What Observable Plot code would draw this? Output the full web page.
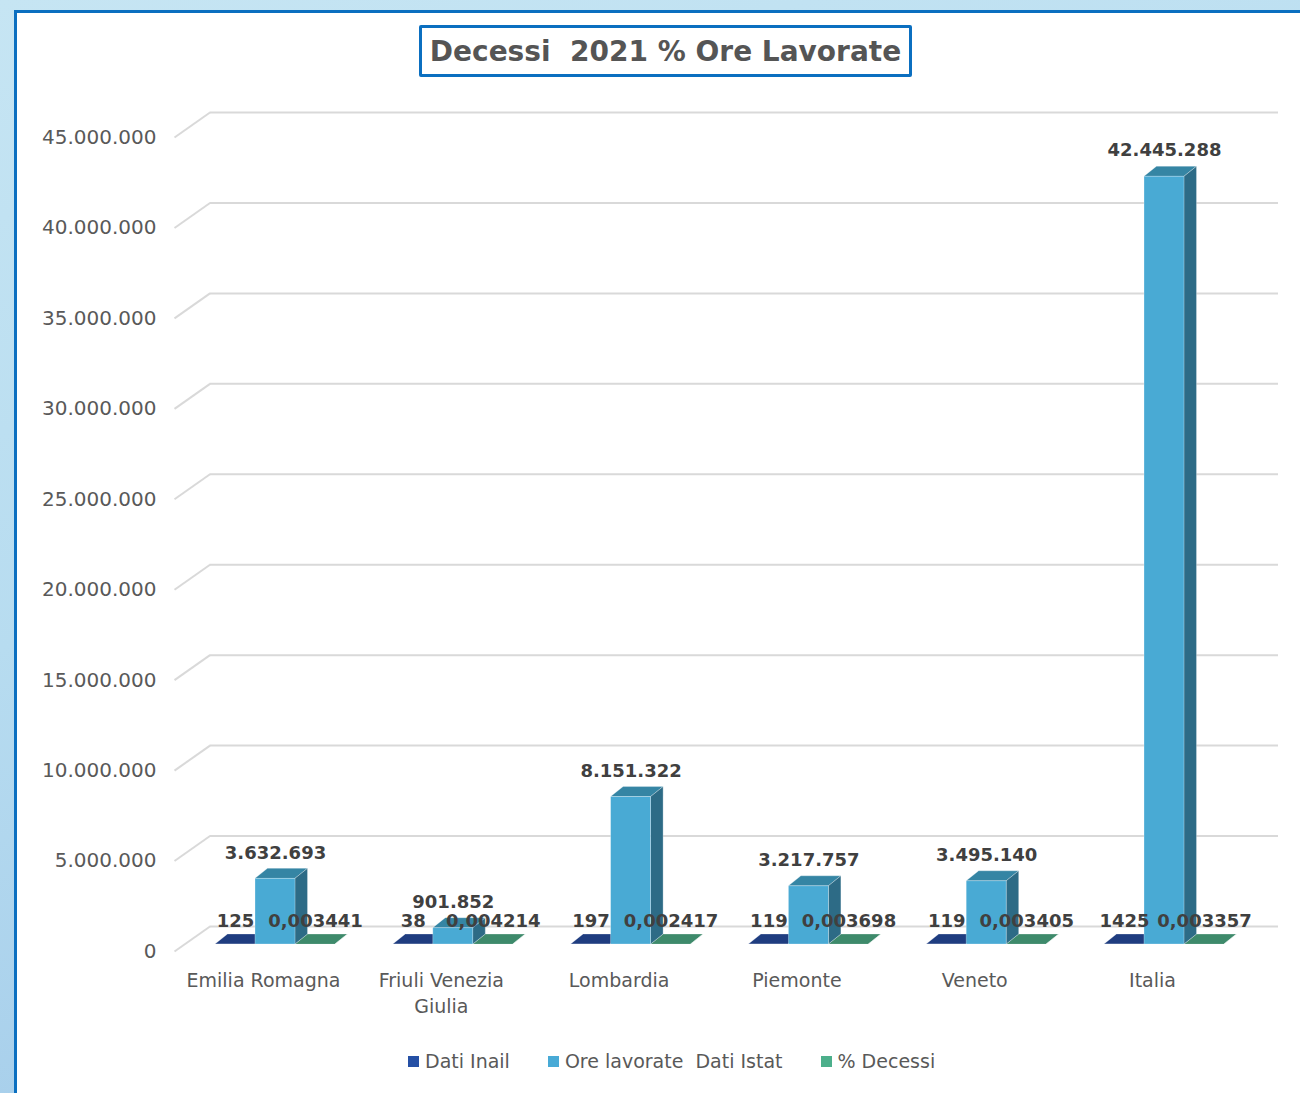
<!DOCTYPE html>
<html>
<head>
<meta charset="utf-8">
<script src="https://cdn.jsdelivr.net/npm/d3@7"></script>
<script src="https://cdn.jsdelivr.net/npm/@observablehq/plot@0.6"></script>
<style>
html, body { margin:0; padding:0; overflow:hidden; width:1300px; height:1093px; }
body { position:relative; background:linear-gradient(165deg,#c6e5f3 0%,#b7dcf0 45%,#9ec7e8 100%); font-family:"DejaVu Sans",sans-serif; }
#panel { position:absolute; left:14px; top:10px; width:1300px; height:1100px; background:#fff; border-left:3px solid #0b6fc0; border-top:3px solid #0b6fc0; }
#chart { position:absolute; left:0; top:0; }
#title { position:absolute; left:419px; top:25px; width:487px; height:46px; border:3px solid #0b6fc0; border-radius:2px; background:#fff;
  display:flex; align-items:center; justify-content:center; white-space:pre; font-weight:bold; font-size:28px; color:#555; }
#legend { position:absolute; left:408px; top:1050px; display:flex; align-items:center; font-size:19px; color:#595959; white-space:pre; }
#legend .item { display:flex; align-items:center; margin-right:38px; }
#legend .sw { width:11px; height:11px; margin-right:6px; }
</style>
</head>
<body>
<div id="panel"></div>
<div id="chart"></div>
<div id="title">Decessi  2021 % Ore Lavorate</div>
<div id="legend"></div>
<script>
// ---- data ----
const categoryLabels = ["Emilia Romagna", "Friuli Venezia\nGiulia", "Lombardia", "Piemonte", "Veneto", "Italia"];
const datiInail = [125, 38, 197, 119, 119, 1425];
const oreLavorate = [3632693, 901852, 8151322, 3217757, 3495140, 42445288];
const percDecessi = [0.003441, 0.004214, 0.002417, 0.003698, 0.003405, 0.003357];
const seriesNames = ["Dati Inail", "Ore lavorate  Dati Istat", "% Decessi"];
const yTicks = [0, 5000000, 10000000, 15000000, 20000000, 25000000, 30000000, 35000000, 40000000, 45000000];

// ---- formats ----
const it = d3.formatLocale({decimal: ",", thousands: ".", grouping: [3], currency: ["", "€"]});
const fmtGroup = it.format(",d");
const fmtPct = it.format(".6f");
const fmtPlain = d3.format("d");

// ---- layout (pixels) ----
const STEP = 177.8, X0 = 275;          // category spacing, centre of first group
const BW = 40, DX = 12.5, DY = 10;     // bar width and 3D depth
const Y0 = 944, YTOP = 130;            // bar plane: 0 and 45M
const pxX = 1 / STEP;
const pxY = 45000000 / (Y0 - YTOP);
const xu = px => (px - X0) / STEP;

const series = [
  {name: seriesNames[0], values: datiInail, fmt: fmtPlain, off: -1, dy: -23, front: "#2a52a6", top: "#1f3d80", side: "#1a346c", legend: "#2550a5"},
  {name: seriesNames[1], values: oreLavorate, fmt: fmtGroup, off: 0, dy: -26, front: "#49aad4", top: "#3585a4", side: "#2d6b86", legend: "#48aad6"},
  {name: seriesNames[2], values: percDecessi, fmt: fmtPct, off: 1, dy: -23, front: "#4caf8b", top: "#3e8a6b", side: "#2f6f56", legend: "#4caf8b"}
];

function barMarks(s) {
  const fronts = [], sides = [], tops = [];
  s.values.forEach((v, i) => {
    const xc = i + s.off * BW * pxX;
    const xl = xc - BW / 2 * pxX, xr = xc + BW / 2 * pxX;
    fronts.push({x1: xl, x2: xr, y1: 0, y2: v});
    sides.push({id: i, x: xr, y1: 0, y2: v});
    sides.push({id: i, x: xr + DX * pxX, y1: DY * pxY, y2: v + DY * pxY});
    tops.push({id: i, y: v, x1: xl, x2: xr});
    tops.push({id: i, y: v + DY * pxY, x1: xl + DX * pxX, x2: xr + DX * pxX});
  });
  return [
    Plot.area(tops, {y1: "y", x1: "x1", x2: "x2", z: "id", fill: s.top, curve: "linear", stroke: "#ffffff", strokeOpacity: 0.35, strokeWidth: 0.8}),
    Plot.area(sides, {x1: "x", y1: "y1", y2: "y2", z: "id", fill: s.side, curve: "linear", stroke: "#ffffff", strokeOpacity: 0.35, strokeWidth: 0.8}),
    Plot.rect(fronts, {x1: "x1", x2: "x2", y1: "y1", y2: "y2", fill: s.front, stroke: "#ffffff", strokeOpacity: 0.35, strokeWidth: 0.8})
  ];
}

function labelMarks(s) {
  return Plot.text(s.values, {
    x: (d, i) => i + s.off * BW * pxX, y: d => d, dy: s.dy,
    text: d => s.fmt(d), fontSize: 18, fontWeight: "bold", fill: "#404040"
  });
}

const chart = Plot.plot({
  width: 1300,
  height: 1040,
  x: {type: "linear", domain: [0, 5], range: [X0, X0 + 5 * STEP], axis: null},
  y: {type: "linear", domain: [0, 45000000], range: [Y0, YTOP], axis: null},
  style: {background: "transparent", overflow: "visible", fontFamily: "DejaVu Sans, sans-serif"},
  marks: [
    // back-wall gridlines
    Plot.ruleY(yTicks, {y: d => d, x1: xu(209.5), x2: xu(1278), dy: -18, stroke: "#d9d9d9", strokeWidth: 2}),
    // perspective connectors to the front plane
    Plot.link(yTicks, {x1: xu(174), y1: d => d - 7 * pxY, x2: xu(209.5), y2: d => d + 18 * pxY, stroke: "#d9d9d9", strokeWidth: 2}),
    // y tick labels (front plane)
    Plot.text(yTicks, {x: xu(156), y: d => d, dy: 7, text: d => fmtGroup(d), textAnchor: "end", fontSize: 20, fill: "#595959"}),
    // category labels
    Plot.text(categoryLabels, {x: (d, i) => i, y: 0, dx: -12, dy: 24, text: d => d, lineAnchor: "top", lineHeight: 1.37, fontSize: 19, fill: "#595959"}),
    // bars: dark blue, green, then light blue on top
    ...barMarks(series[0]),
    ...barMarks(series[2]),
    ...barMarks(series[1]),
    // data labels
    labelMarks(series[0]),
    labelMarks(series[1]),
    labelMarks(series[2])
  ]
});
document.getElementById("chart").appendChild(chart);

// legend
const legend = document.getElementById("legend");
series.forEach(s => {
  const item = document.createElement("div");
  item.className = "item";
  const sw = document.createElement("div");
  sw.className = "sw";
  sw.style.background = s.legend;
  const t = document.createElement("span");
  t.textContent = s.name;
  item.appendChild(sw);
  item.appendChild(t);
  legend.appendChild(item);
});
</script>
</body>
</html>
